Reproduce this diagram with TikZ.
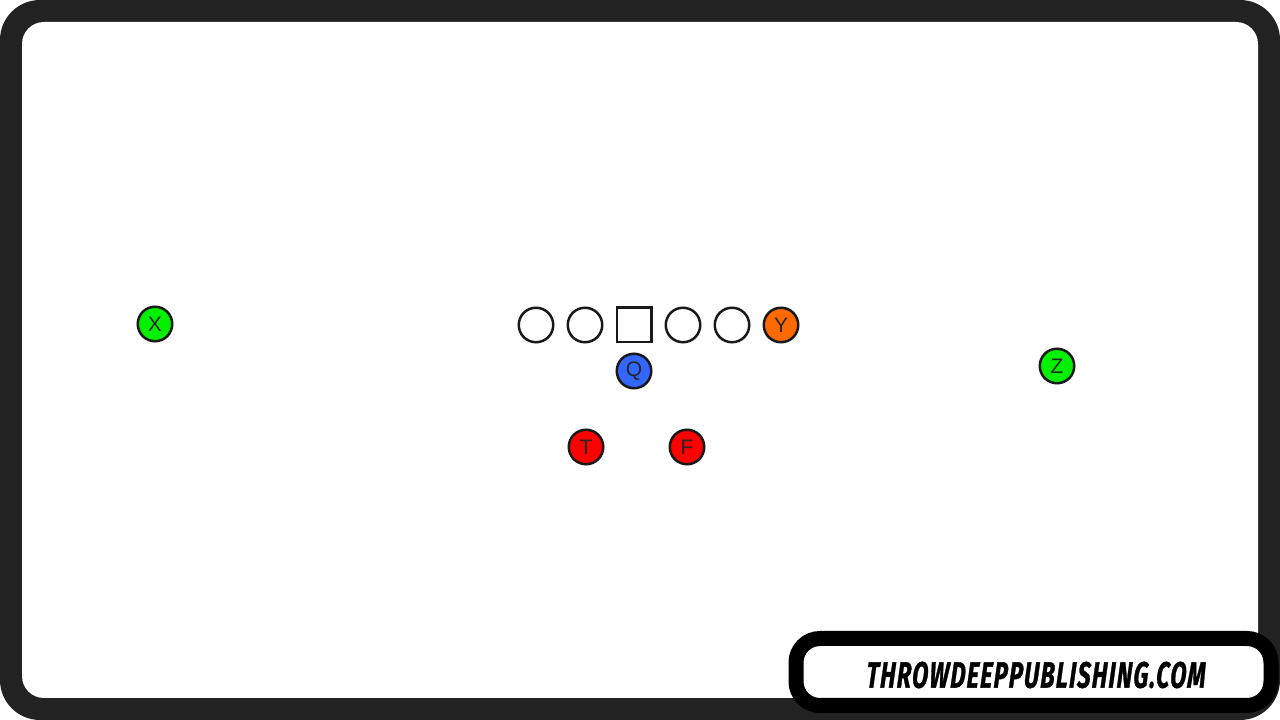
\documentclass[tikz,border=0pt]{standalone}
\usepackage{fontspec}
\setmainfont{Liberation Sans}
\newfontfamily\logofont{Fira Sans}[LetterSpace=6, FakeBold=1.2, FakeSlant=0.08]
\definecolor{framegray}{HTML}{222222}
\definecolor{wrgreen}{HTML}{00F000}
\definecolor{teorange}{HTML}{FF6A00}
\definecolor{qbblue}{HTML}{3366FF}
\definecolor{bkred}{HTML}{FF0000}
\tikzset{
  player/.style={circle, draw=black!90, line width=2.5pt, minimum size=34.5pt, inner sep=0pt,
    text=black!85, font=\fontsize{21}{21}\selectfont},
  center/.style={rectangle, draw=black!90, line width=2.5pt, minimum size=34.5pt, inner sep=0pt},
}
\begin{document}
\begin{tikzpicture}[x=1pt, y=1pt, node distance=49pt]
    \useasboundingbox (0,0) rectangle (1280,720);
    % frame
    \fill[framegray, rounded corners=40pt] (0,0) rectangle (1280,720);
    \fill[white, rounded corners=22pt] (22,22) rectangle (1258,698);
    % offense
    \node (x) [player, fill=wrgreen] at (155,396) {X};
    \node (lt) [player, fill=white] at (536,395) {};
    \node (lg) [player, fill=white, right of=lt] {};
    \node (c) [center, fill=white, right of=lg] {};
    \node (rg) [player, fill=white, right of=c] {};
    \node (rt) [player, fill=white, right of=rg] {};
    \node (y) [player, fill=teorange, right of=rt] {Y};
    \node (q) [player, fill=qbblue] at (634,349) {Q};
    \node (t) [player, fill=bkred] at (586,273) {T};
    \node (f) [player, fill=bkred] at (687,273) {F};
    \node (z) [player, fill=wrgreen] at (1057,354) {Z};
    % logo
    \draw[line width=15pt, fill=white, rounded corners=24pt] (796,14.5) rectangle (1271,81.5);
    \node (logo) at (1035.5,45) {\resizebox{339pt}{26pt}{\logofont\bfseries\itshape THROWDEEPPUBLISHING.COM}};
\end{tikzpicture}
\end{document}
